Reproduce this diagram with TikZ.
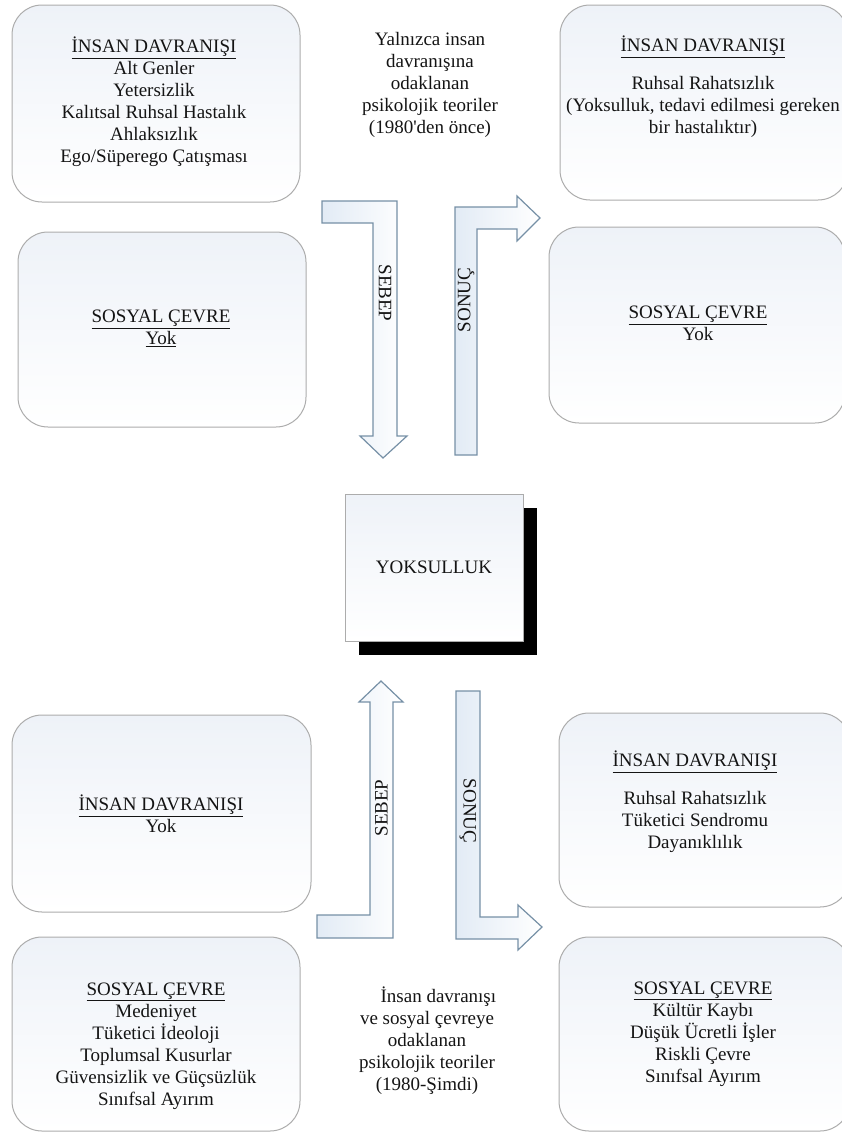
\documentclass[tikz,border=0pt]{standalone}
\usepackage{fontspec}
\setmainfont{Liberation Serif}
\usetikzlibrary{shadows}
\definecolor{boxline}{RGB}{172,172,172}
\definecolor{boxfill}{RGB}{238,242,248}
\definecolor{arrowline}{RGB}{118,144,166}
\definecolor{arrowfill}{RGB}{226,235,245}
\definecolor{ink}{RGB}{20,20,20}

\begin{document}
\begin{tikzpicture}[x=1pt, y=-1pt,
    box/.style={draw=boxline, line width=1pt, rounded corners=30pt, top color=boxfill, bottom color=white, inner sep=0pt},
    txt/.style={align=center, font=\fontsize{19}{22}\selectfont, text=ink, inner sep=0pt},
    barrow/.style={draw=arrowline, line width=1.2pt, left color=arrowfill, right color=white, line join=miter}]
            \useasboundingbox (0,0) rectangle (842,1133);
            \clip (0,0) rectangle (842,1133);
            \node[box, minimum width=288pt, minimum height=197pt] (hbTop) at (156,103.5) {};
            \node[box, minimum width=288pt, minimum height=195pt] (hbTopR) at (704,102.5) {};
            \node[box, minimum width=288pt, minimum height=195pt] (seTop) at (162,329.5) {};
            \node[box, minimum width=296pt, minimum height=196pt] (seTopR) at (697,325) {};
            \node[box, minimum width=299pt, minimum height=197pt] (hbBot) at (161.5,813.5) {};
            \node[box, minimum width=291pt, minimum height=194pt] (hbBotR) at (704.5,810) {};
            \node[box, minimum width=288pt, minimum height=194pt] (seBot) at (156,1034) {};
            \node[box, minimum width=291pt, minimum height=194pt] (seBotR) at (704.5,1034) {};
            \node[txt] (hbTopText) at (154,102) {\underline{İNSAN DAVRANIŞI}\\Alt Genler\\Yetersizlik\\Kalıtsal Ruhsal Hastalık\\Ahlaksızlık\\Ego/Süperego Çatışması};
            \node[txt] (hbTopRText) at (703,87) {\underline{İNSAN DAVRANIŞI}\\[16pt]Ruhsal Rahatsızlık\\(Yoksulluk, tedavi edilmesi gereken\\bir hastalıktır)};
            \node[txt] (seTopText) at (161,328.5) {\underline{SOSYAL ÇEVRE}\\\underline{Yok}};
            \node[txt] (seTopRText) at (698,323.5) {\underline{SOSYAL ÇEVRE}\\Yok};
            \node[txt] (hbBotText) at (161,813.5) {\underline{İNSAN DAVRANIŞI}\\Yok};
            \node[txt] (hbBotRText) at (695,801.5) {\underline{İNSAN DAVRANIŞI}\\[16pt]Ruhsal Rahatsızlık\\Tüketici Sendromu\\Dayanıklılık};
            \node[txt] (seBotText) at (156,1046) {\underline{SOSYAL ÇEVRE}\\Medeniyet\\Tüketici İdeoloji\\Toplumsal Kusurlar\\Güvensizlik ve Güçsüzlük\\Sınıfsal Ayırım};
            \node[txt] (seBotRText) at (703,1034) {\underline{SOSYAL ÇEVRE}\\Kültür Kaybı\\Düşük Ücretli İşler\\Riskli Çevre\\Sınıfsal Ayırım};
            \node[txt] (theoryTop) at (430,85) {Yalnızca insan\\davranışına\\odaklanan\\psikolojik teoriler\\(1980\textquotesingle den önce)};
            \node[txt] (theoryBot) at (427,1041) {\hspace{1.2em}İnsan davranışı\\ve sosyal çevreye\\odaklanan\\psikolojik teoriler\\(1980-Şimdi)};
            \node[draw=boxline, line width=1pt, top color=boxfill, bottom color=white, minimum width=178pt, minimum height=147pt, txt,
                drop shadow={shadow xshift=14pt, shadow yshift=-14pt, fill=black, opacity=1}] (pov) at (434,567.5) {YOKSULLUK};
            \draw[barrow] (322,201) -- (397,201) -- (397,436) -- (407,436) -- (383,458) -- (360,436) -- (373,436) -- (373,223) -- (322,223) -- cycle;
            \draw[barrow] (455,455) -- (455,207) -- (517,207) -- (517,196) -- (540,218) -- (517,241) -- (517,229) -- (477,229) -- (477,455) -- cycle;
            \draw[barrow] (381,681) -- (403,702) -- (393,702) -- (393,938) -- (317,938) -- (317,915) -- (370,915) -- (370,702) -- (359,702) -- cycle;
            \draw[barrow] (456,691) -- (480,691) -- (480,917) -- (518,917) -- (518,905) -- (542,927) -- (518,950) -- (518,939) -- (456,939) -- cycle;
            \node[txt, rotate=-90] (causeTop) at (385,293) {SEBEP};
            \node[txt, rotate=90] (effectTop) at (466,300) {SONUÇ};
            \node[txt, rotate=90] (causeBot) at (381.5,808) {SEBEP};
            \node[txt, rotate=-90] (effectBot) at (468,811) {SONUÇ};
        \end{tikzpicture}
\end{document}
